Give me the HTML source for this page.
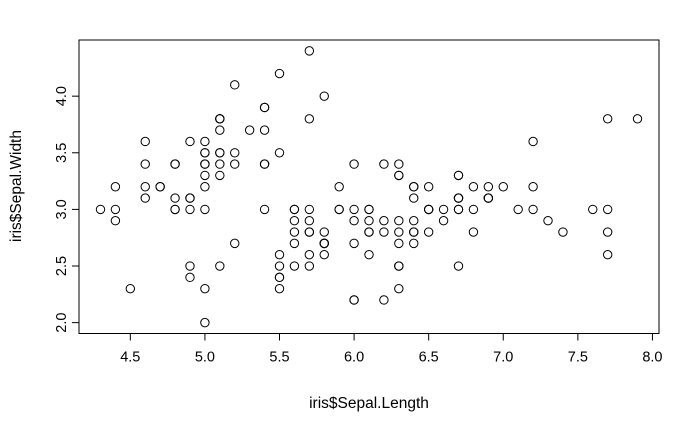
<!DOCTYPE html>
<html><head><meta charset="utf-8"><style>
html,body{margin:0;padding:0;background:#fff;}
svg text{font-family:"Liberation Sans",Arial,sans-serif;font-size:14.5px;fill:#000;}
svg text.title{font-size:15.5px;}
</style></head><body>
<svg id="chart" width="700" height="432" viewBox="0 0 700 432" xmlns="http://www.w3.org/2000/svg">
<rect x="79" y="40" width="580" height="293.5" fill="none" stroke="#000" stroke-width="1"/>
<g id="xaxis"></g>
<g id="yaxis"></g>
<g id="points"></g>
<text class="title" x="369" y="408" text-anchor="middle">iris$Sepal.Length</text>
<text class="title" transform="translate(21,186) rotate(-90)" text-anchor="middle">iris$Sepal.Width</text>
</svg>
<script>
const sepalLength = [5.1,4.9,4.7,4.6,5.0,5.4,4.6,5.0,4.4,4.9,5.4,4.8,4.8,4.3,5.8,5.7,5.4,5.1,5.7,5.1,5.4,5.1,4.6,5.1,4.8,5.0,5.0,5.2,5.2,4.7,4.8,5.4,5.2,5.5,4.9,5.0,5.5,4.9,4.4,5.1,5.0,4.5,4.4,5.0,5.1,4.8,5.1,4.6,5.3,5.0,
7.0,6.4,6.9,5.5,6.5,5.7,6.3,4.9,6.6,5.2,5.0,5.9,6.0,6.1,5.6,6.7,5.6,5.8,6.2,5.6,5.9,6.1,6.3,6.1,6.4,6.6,6.8,6.7,6.0,5.7,5.5,5.5,5.8,6.0,5.4,6.0,6.7,6.3,5.6,5.5,5.5,6.1,5.8,5.0,5.6,5.7,5.7,6.2,5.1,5.7,
6.3,5.8,7.1,6.3,6.5,7.6,4.9,7.3,6.7,7.2,6.5,6.4,6.8,5.7,5.8,6.4,6.5,7.7,7.7,6.0,6.9,5.6,7.7,6.3,6.7,7.2,6.2,6.1,6.4,7.2,7.4,7.9,6.4,6.3,6.1,7.7,6.3,6.4,6.0,6.9,6.7,6.9,5.8,6.8,6.7,6.7,6.3,6.5,6.2,5.9];
const sepalWidth = [3.5,3.0,3.2,3.1,3.6,3.9,3.4,3.4,2.9,3.1,3.7,3.4,3.0,3.0,4.0,4.4,3.9,3.5,3.8,3.8,3.4,3.7,3.6,3.3,3.4,3.0,3.4,3.5,3.4,3.2,3.1,3.4,4.1,4.2,3.1,3.2,3.5,3.6,3.0,3.4,3.5,2.3,3.2,3.5,3.8,3.0,3.8,3.2,3.7,3.3,
3.2,3.2,3.1,2.3,2.8,2.8,3.3,2.4,2.9,2.7,2.0,3.0,2.2,2.9,2.9,3.1,3.0,2.7,2.2,2.5,3.2,2.8,2.5,2.8,2.9,3.0,2.8,3.0,2.9,2.6,2.4,2.4,2.7,2.7,3.0,3.4,3.1,2.3,3.0,2.5,2.6,3.0,2.6,2.3,2.7,3.0,2.9,2.9,2.5,2.8,
3.3,2.7,3.0,2.9,3.0,3.0,2.5,2.9,2.5,3.6,3.2,2.7,3.0,2.5,2.8,3.2,3.0,3.8,2.6,2.2,3.2,2.8,2.8,2.7,3.3,3.2,2.8,3.0,2.8,3.0,2.8,3.8,2.8,2.8,2.6,3.0,3.4,3.1,3.0,3.1,3.1,3.1,2.7,3.2,3.3,3.0,2.5,3.0,3.4,3.0];
const xTicks = [4.5,5.0,5.5,6.0,6.5,7.0,7.5,8.0];
const xTickLabels = ["4.5","5.0","5.5","6.0","6.5","7.0","7.5","8.0"];
const yTicks = [2.0,2.5,3.0,3.5,4.0];
const yTickLabels = ["2.0","2.5","3.0","3.5","4.0"];

const NS = "http://www.w3.org/2000/svg";
const L = 79, R = 659, T = 40, B = 333.5;
const xmin = Math.min(...sepalLength), xmax = Math.max(...sepalLength);
const ymin = Math.min(...sepalWidth), ymax = Math.max(...sepalWidth);
const x0 = xmin - (xmax - xmin) * 0.04, x1 = xmax + (xmax - xmin) * 0.04;
const y0 = ymin - (ymax - ymin) * 0.04, y1 = ymax + (ymax - ymin) * 0.04;
const xs = v => L + (v - x0) / (x1 - x0) * (R - L);
const ys = v => B - (v - y0) / (y1 - y0) * (B - T);

function mk(tag, attrs, parent) {
  const e = document.createElementNS(NS, tag);
  for (const k in attrs) e.setAttribute(k, attrs[k]);
  parent.appendChild(e);
  return e;
}
const xa = document.getElementById('xaxis');
mk('line', {x1: xs(xTicks[0]), x2: xs(xTicks[xTicks.length-1]), y1: B, y2: B, stroke: '#000'}, xa);
xTicks.forEach((t, i) => {
  const tk = mk('line', {x1: xs(t), x2: xs(t), y1: B, y2: B + 7, stroke: '#000'}, xa);
  
  
  const lb = mk('text', {x: xs(t), y: B + 28, 'text-anchor': 'middle'}, xa);
  lb.textContent = xTickLabels[i];
  
  
});
const ya = document.getElementById('yaxis');
yTicks.forEach((t, i) => {
  const tk = mk('line', {x1: L - 7, x2: L, y1: ys(t), y2: ys(t), stroke: '#000'}, ya);
  
  
  const lb = mk('text', {transform: `translate(${L - 13},${ys(t)}) rotate(-90)`, 'text-anchor': 'middle'}, ya);
  lb.textContent = yTickLabels[i];
  
  
});
const pg = document.getElementById('points');
sepalLength.forEach((v, i) => {
  const c = mk('circle', {cx: xs(v), cy: ys(sepalWidth[i]), r: 4.2, fill: 'none', stroke: '#000', 'stroke-width': 1}, pg);
  
  
});
</script>
</body></html>
